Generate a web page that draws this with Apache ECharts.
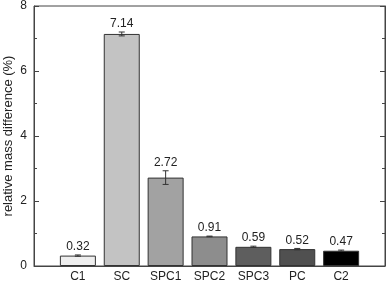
<!DOCTYPE html>
<html>
<head>
<meta charset="utf-8">
<script src="https://cdn.jsdelivr.net/npm/echarts@6/dist/echarts.min.js"></script>
<style>
  html, body { margin: 0; padding: 0; background: #fff; }
  #chart { width: 387px; height: 282px; }
</style>
</head>
<body>
<div id="chart"></div>
<script>
// 数据
const categories = ['C1', 'SC', 'SPC1', 'SPC2', 'SPC3', 'PC', 'C2']
const values = [0.32, 7.14, 2.72, 0.91, 0.59, 0.52, 0.47]
const errors = [0.02, 0.06, 0.21, 0.01, 0.02, 0.02, 0.02]
const barColors = ['#eeeeee', '#c3c3c3', '#a2a2a2', '#8d8d8d', '#5e5e5e', '#505050', '#000000']
const yTicks = [0, 2, 4, 6, 8]

const FONT = 'Liberation Sans, Arial, sans-serif'

// 两端各留一个空位，使柱子位于 1..7
const axisCats = [''].concat(categories, [''])

const barData = ['-'].concat(values.map((v, i) => ({
  value: v,
  itemStyle: { color: barColors[i] }
})), ['-'])

const errData = values.map((v, i) => [i + 1, v, errors[i]])

const chart = echarts.init(document.getElementById('chart'))

chart.setOption({
  animation: false,
  grid: {
    left: 34, right: 2, top: 6, bottom: 16,
    outerBoundsMode: 'none',
    containLabel: false,
    show: true, borderColor: '#444', borderWidth: 1
  },
  xAxis: {
    type: 'category',
    data: axisCats,
    boundaryGap: false,
    axisLine: { lineStyle: { color: '#444' } },
    axisTick: { show: false },
    axisLabel: { color: '#222', fontSize: 12, fontFamily: FONT, margin: 5, interval: 0 }
  },
  yAxis: [{
    type: 'value',
    min: yTicks[0], max: yTicks[yTicks.length - 1], interval: 2,
    name: 'relative mass difference (%)',
    nameLocation: 'middle',
    nameGap: 19,
    nameMoveOverlap: false,
    nameTextStyle: { color: '#222', fontSize: 13, fontFamily: FONT },
    axisLine: { show: true, lineStyle: { color: '#444' } },
    axisTick: { show: true, inside: true, length: 5, lineStyle: { color: '#444' } },
    minorTick: { show: true, splitNumber: 2, length: 3, lineStyle: { color: '#444' } },
    splitLine: { show: false },
    axisLabel: { color: '#222', fontSize: 12, fontFamily: FONT, margin: 7 }
  }, {
    type: 'value',
    position: 'right',
    min: yTicks[0], max: yTicks[yTicks.length - 1], interval: 2,
    axisLine: { show: true, lineStyle: { color: '#444' } },
    axisTick: { show: true, inside: true, length: 5, lineStyle: { color: '#444' } },
    minorTick: { show: true, splitNumber: 2, length: 3, lineStyle: { color: '#444' } },
    splitLine: { show: false },
    axisLabel: { show: false }
  }],
  series: [{
    type: 'bar',
    data: barData,
    barWidth: 36,
    itemStyle: { borderColor: '#333', borderWidth: 1 }
  }, {
    type: 'custom',
    data: errData,
    z: 5,
    renderItem: function (params, api) {
      const x = api.value(0)
      const v = api.value(1)
      const e = api.value(2)
      const top = api.coord([x, v + e])
      const bot = api.coord([x, v - e])
      const cap = 3
      const st = { stroke: '#333', lineWidth: 1 }
      return {
        type: 'group',
        children: [
          { type: 'line', shape: { x1: top[0], y1: top[1], x2: bot[0], y2: bot[1] }, style: st },
          { type: 'line', shape: { x1: top[0] - cap, y1: top[1], x2: top[0] + cap, y2: top[1] }, style: st },
          { type: 'line', shape: { x1: bot[0] - cap, y1: bot[1], x2: bot[0] + cap, y2: bot[1] }, style: st },
          {
            type: 'text',
            style: {
              text: v.toFixed(2),
              x: top[0], y: top[1] - 2,
              align: 'center', verticalAlign: 'bottom',
              font: '12px ' + FONT, fill: '#222'
            }
          }
        ]
      }
    }
  }]
})
</script>
</body>
</html>
